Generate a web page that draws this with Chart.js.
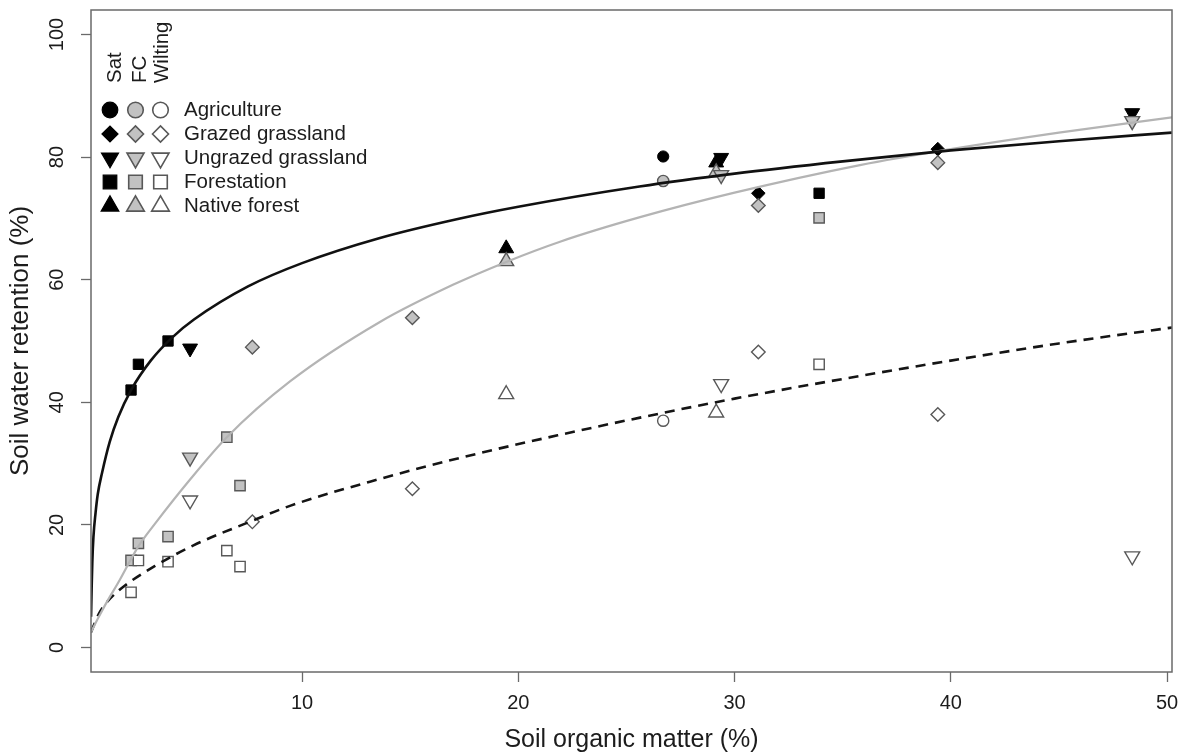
<!DOCTYPE html>
<html>
<head>
<meta charset="utf-8">
<script src="https://cdn.jsdelivr.net/npm/chart.js@4/dist/chart.umd.min.js"></script>
<style>
  html, body { margin: 0; padding: 0; background: #ffffff; }
  #wrap { width: 1187px; height: 756px; position: relative; }
</style>
</head>
<body>
<div id="wrap"><canvas id="c" width="1187" height="756"></canvas></div>
<script>
// ---------------- data ----------------
const landUses = ['Agriculture', 'Grazed grassland', 'Ungrazed grassland', 'Forestation', 'Native forest'];
const measures = ['Sat', 'FC', 'Wilting'];

const agricultureSOM     = [26.7];
const agricultureSat     = [80.1];
const agricultureFC      = [76.1];
const agricultureWilting = [37.0];

const grazedSOM     = [7.7, 15.1, 31.1, 39.4];
const grazedSat     = [null, null, 74.1, 81.3];
const grazedFC      = [49.0, 53.8, 72.1, 79.1];
const grazedWilting = [20.5, 25.9, 48.2, 38.0];

const ungrazedSOM     = [4.82, 29.38, 48.39];
const ungrazedSat     = [48.8, 79.9, 87.2];
const ungrazedFC      = [31.0, 77.1, 85.9];
const ungrazedWilting = [24.0, 43.0, 14.9];

const forestationSOM     = [2.09, 2.43, 3.8, 6.52, 7.13, 33.91];
const forestationSat     = [42.0, 46.2, 50.0, null, null, 74.1];
const forestationFC      = [14.2, 17.0, 18.1, 34.3, 26.4, 70.1];
const forestationWilting = [9.0, 14.2, 14.0, 15.8, 13.2, 46.2];

const nativeSOM     = [19.44, 29.15];
const nativeSat     = [65.1, 79.1];
const nativeFC      = [63.0, 77.5];
const nativeWilting = [41.3, 38.3];

// fitted curves
const satCurveX = [0.24, 0.27, 0.3, 0.35, 0.45, 0.55, 0.75, 1.1, 1.5, 2.09, 3, 4, 5, 7.5, 10, 13.6, 17.2, 20, 25.6, 30, 35, 40, 45, 50.23];
const satCurveY = [5, 10, 14, 18, 22, 25, 28.5, 33.5, 37.6, 42, 46.8, 50.6, 53.5, 58.9, 62.7, 66.8, 69.9, 71.9, 75.2, 77.3, 79.3, 81.1, 82.6, 84];
const fcCurveX = [0.24, 0.6, 1, 1.5, 2.43, 3.2, 4.82, 6.52, 9.44, 13.6, 17, 19.44, 21.93, 25.63, 30, 35.8, 40, 45, 50.23];
const fcCurveY = [2.5, 5, 7.6, 10.6, 16.5, 20.2, 27.4, 34.3, 43.4, 53.1, 59.2, 62.9, 66.2, 70.2, 74.2, 78.7, 81.3, 84, 86.5];
const wiltCurveX = [0.24, 0.6, 1, 1.81, 3.2, 5, 7.72, 9.44, 13.6, 17.5, 21.93, 25.63, 30, 35.81, 40, 45, 50.23];
const wiltCurveY = [2.5, 5.5, 7.5, 10.1, 13.3, 16.7, 20.7, 23.1, 27.5, 31.1, 34.7, 37.5, 40.6, 44.3, 46.8, 49.6, 52.2];

const xTickValues = [10, 20, 30, 40, 50];
const yTickValues = [0, 20, 40, 60, 80, 100];
const xRange = [0.238, 50.23];
const yRange = [-4, 104];

// ---------------- styles ----------------
const FONT = '"Liberation Sans", Arial, Helvetica, sans-serif';
const TEXT = '#1c1c1c';
const shapeStyles = [
  { style: 'circle',   rot: 0,   r: 5.6, lr: 7.8 },
  { style: 'rectRot',  rot: 0,   r: 6.8, lr: 8.0 },
  { style: 'triangle', rot: 180, r: 8.6, lr: 9.8 },
  { style: 'rect',     rot: 0,   r: 7.3, lr: 9.6 },
  { style: 'triangle', rot: 0,   r: 8.6, lr: 10.2 }
];
const measureStyles = [
  { bg: '#000000', border: '#000000', bw: 1,   order: 3 },
  { bg: '#c2c2c2', border: '#585858', bw: 1.4, order: 2 },
  { bg: '#ffffff', border: '#585858', bw: 1.4, order: 1 }
];

const groups = [
  [agricultureSOM, agricultureSat, agricultureFC, agricultureWilting],
  [grazedSOM, grazedSat, grazedFC, grazedWilting],
  [ungrazedSOM, ungrazedSat, ungrazedFC, ungrazedWilting],
  [forestationSOM, forestationSat, forestationFC, forestationWilting],
  [nativeSOM, nativeSat, nativeFC, nativeWilting]
];

const pairs = (xs, ys) => xs.map((x, i) => ({ x: x, y: ys[i] })).filter(p => p.y !== null);

const datasets = [];
// curves (drawn on top)
datasets.push({ label: 'Sat fit', data: pairs(satCurveX, satCurveY), showLine: true, pointRadius: 0,
  borderColor: '#111111', borderWidth: 2.6, cubicInterpolationMode: 'monotone', order: 0 });
datasets.push({ label: 'FC fit', data: pairs(fcCurveX, fcCurveY), showLine: true, pointRadius: 0,
  borderColor: '#b4b4b4', borderWidth: 2.2, cubicInterpolationMode: 'monotone', order: 0 });
datasets.push({ label: 'Wilting fit', data: pairs(wiltCurveX, wiltCurveY), showLine: true, pointRadius: 0,
  borderColor: '#151515', borderWidth: 2.6, borderDash: [10, 7], cubicInterpolationMode: 'monotone', order: 0 });

groups.forEach((g, gi) => {
  const sh = shapeStyles[gi];
  measures.forEach((m, mi) => {
    const ms = measureStyles[mi];
    datasets.push({
      label: landUses[gi] + ' ' + m,
      data: pairs(g[0], g[mi + 1]),
      showLine: false,
      pointStyle: sh.style,
      pointRotation: sh.rot,
      pointRadius: sh.r,
      pointHoverRadius: sh.r,
      pointBackgroundColor: ms.bg,
      pointBorderColor: ms.border,
      pointBorderWidth: ms.bw,
      order: ms.order
    });
  });
});

// ---------------- plugin: box + legend ----------------
const frameAndLegend = {
  id: 'frameAndLegend',
  afterDatasetsDraw(chart) {
    const { ctx, chartArea: a } = chart;
    ctx.save();
    ctx.strokeStyle = '#6a6a6a';
    ctx.lineWidth = 1.5;
    ctx.strokeRect(a.left, a.top, a.right - a.left, a.bottom - a.top);

    const colX = [a.left + 19, a.left + 44.5, a.left + 69.5];
    const headX = [a.left + 24, a.left + 49, a.left + 71.5];
    const headBottom = a.top + 73;
    const rowTop = a.top + 100;
    const rowStep = 24;
    const textX = a.left + 93;

    ctx.font = '20.5px ' + FONT;
    ctx.textBaseline = 'middle';
    ctx.textAlign = 'left';
    ctx.fillStyle = TEXT;
    measures.forEach((m, i) => {
      ctx.save();
      ctx.translate(headX[i], headBottom);
      ctx.rotate(-Math.PI / 2);
      ctx.fillText(m, 0, 0);
      ctx.restore();
    });
    landUses.forEach((lu, r) => {
      const y = rowTop + r * rowStep;
      const sh = shapeStyles[r];
      measures.forEach((m, c) => {
        const ms = measureStyles[c];
        ctx.fillStyle = ms.bg;
        ctx.strokeStyle = ms.border;
        ctx.lineWidth = ms.bw + 0.2;
        Chart.helpers.drawPoint(ctx, { pointStyle: sh.style, rotation: sh.rot, radius: sh.lr, borderWidth: ms.bw + 0.2 }, colX[c], y);
      });
      ctx.fillStyle = TEXT;
      ctx.fillText(lu, textX, y);
    });
    ctx.restore();
  }
};

new Chart(document.getElementById('c'), {
  type: 'scatter',
  data: { datasets: datasets },
  plugins: [frameAndLegend],
  options: {
    responsive: false,
    animation: false,
    devicePixelRatio: 1,
    layout: { padding: { left: 0, right: 15, top: 7, bottom: 0 } },
    plugins: { legend: { display: false }, tooltip: { enabled: false } },
    scales: {
      x: {
        type: 'linear',
        min: xRange[0], max: xRange[1],
        afterBuildTicks: s => { s.ticks = xTickValues.map(v => ({ value: v })); },
        afterFit: s => { s.height = 84; s.paddingLeft = 0; s.paddingRight = 0; },
        grid: { display: true, drawOnChartArea: false, drawTicks: true, tickLength: 10, color: '#6a6a6a', tickWidth: 1.3 },
        border: { display: false },
        ticks: { font: { family: FONT, size: 20 }, color: TEXT, padding: 9.7, maxRotation: 0, minRotation: 0, autoSkip: false },
        title: { display: true, text: 'Soil organic matter (%)', color: TEXT, font: { family: FONT, size: 25 }, padding: { top: 0, bottom: 1 } }
      },
      y: {
        type: 'linear',
        min: yRange[0], max: yRange[1],
        afterBuildTicks: s => { s.ticks = yTickValues.map(v => ({ value: v })); },
        afterFit: s => { s.width = 91; s.paddingTop = 0; s.paddingBottom = 0; },
        grid: { display: true, drawOnChartArea: false, drawTicks: true, tickLength: 10, color: '#6a6a6a', tickWidth: 1.3 },
        border: { display: false },
        ticks: { font: { family: FONT, size: 20 }, color: TEXT, padding: 6.8, minRotation: 90, maxRotation: 90, crossAlign: 'center', autoSkip: false },
        title: { display: true, text: 'Soil water retention (%)', color: TEXT, font: { family: FONT, size: 26 }, padding: { top: 5.4, bottom: 0 } }
      }
    }
  }
});
</script>
</body>
</html>
